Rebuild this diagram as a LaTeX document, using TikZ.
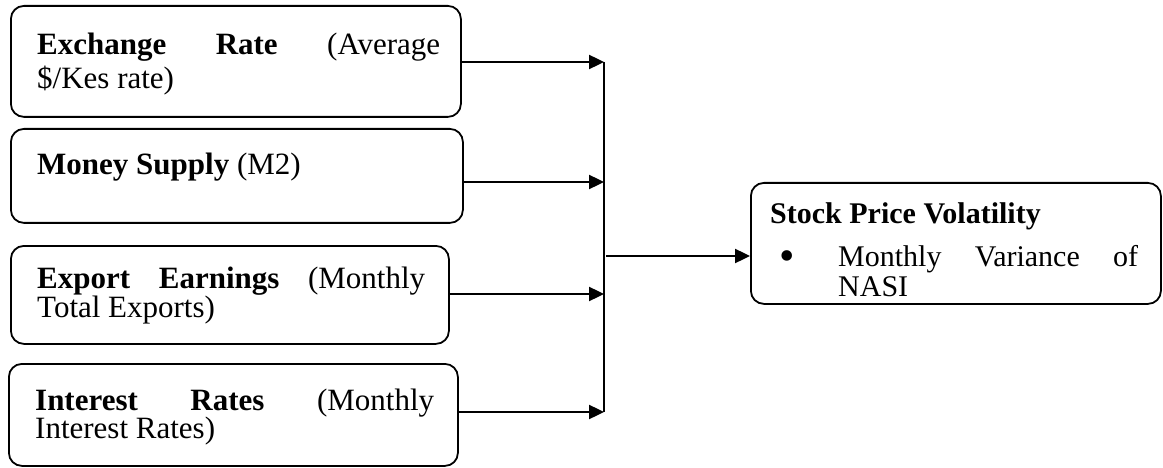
\documentclass[tikz,border=0pt]{standalone}
\usepackage{fontspec}
\setmainfont{Liberation Serif}
\usetikzlibrary{arrows.meta}
\begin{document}
\begin{tikzpicture}[x=1pt,y=-1pt,
  box/.style={draw=black, line width=1.8pt, rounded corners=13pt, rectangle, anchor=north west, inner sep=0pt},
  txt/.style={anchor=base west, inner sep=0pt, font=\fontsize{31pt}{31pt}\selectfont},
  rtxt/.style={anchor=base west, inner sep=0pt, font=\fontsize{30pt}{30pt}\selectfont},
  arr/.style={line width=2.4pt, -{Triangle[length=15pt,width=14pt]}},
  bar/.style={line width=2.4pt}]
\useasboundingbox (0,0) rectangle (1163,468);
% boxes
\node[box, minimum width=450pt, minimum height=111pt] (b1) at (10,5) {};
\node[box, minimum width=452pt, minimum height=94pt] (b2) at (10,128) {};
\node[box, minimum width=438pt, minimum height=98pt] (b3) at (10,245) {};
\node[box, minimum width=449pt, minimum height=102pt] (b4) at (8,363) {};
\node[box, minimum width=410pt, minimum height=121pt] (out) at (750,182) {};
% texts
\node[txt] (t1a) at (37,55) {\hbox to 403pt{\textbf{Exchange}\hfill\textbf{Rate}\hfill(Average}};
\node[txt] (t1b) at (37,89) {\$/Kes rate)};
\node[txt] (t2) at (37,175) {\textbf{Money Supply} (M2)};
\node[txt] (t3a) at (37,288) {\hbox to 388pt{\textbf{Export}\hfill\textbf{Earnings}\hfill(Monthly}};
\node[txt] (t3b) at (37,317) {Total Exports)};
\node[txt] (t4a) at (35,410) {\hbox to 399pt{\textbf{Interest}\hfill\textbf{Rates}\hfill(Monthly}};
\node[txt] (t4b) at (35,438) {Interest Rates)};
\node[rtxt] (t5) at (770,223) {\textbf{Stock Price Volatility}};
\node[anchor=base west, inner sep=0pt, font=\fontsize{44pt}{44pt}\selectfont] (t5b) at (779,270) {•};
\node[rtxt] (t5c) at (838,266) {\hbox to 300pt{Monthly\hfill Variance\hfill of}};
\node[rtxt] (t5d) at (838,296) {NASI};
% junction
\coordinate (v1) at (604,62);
\coordinate (v2) at (604,182);
\coordinate (v3) at (604,294);
\coordinate (v4) at (604,412);
\draw[bar] (v1) -- (v4);
\draw[arr] (b1.east |- v1) -- (v1);
\draw[arr] (b2.east |- v2) -- (v2);
\draw[arr] (b3.east |- v3) -- (v3);
\draw[arr] (b4.east |- v4) -- (v4);
\coordinate (m) at (606,256);
\draw[arr] (m) -- (out.west |- m);
\end{tikzpicture}
\end{document}
